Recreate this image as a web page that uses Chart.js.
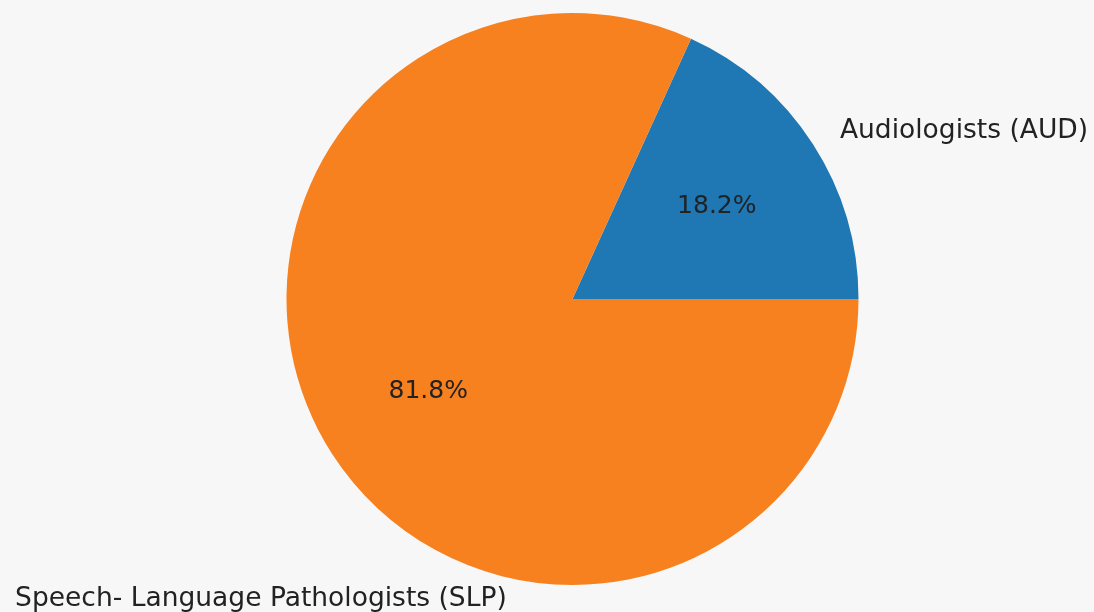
<!DOCTYPE html>
<html>
<head>
<meta charset="utf-8">
<script src="https://cdn.jsdelivr.net/npm/chart.js@4.4.0/dist/chart.umd.min.js"></script>
<style>
  html, body { margin: 0; padding: 0; background: #f7f7f7; }
  #caja { width: 1094px; height: 612px; position: relative; }
</style>
</head>
<body>
<div id="caja"><canvas id="mi-grafico"></canvas></div>
<script>
const etiquetas = ['Audiologists (AUD)', 'Speech- Language Pathologists (SLP)']
const valores = [18.2, 81.8]
const colores = ['#1f77b4', '#f7801f']

// posicion de las etiquetas externas (linea base), en fracciones del radio
const posEtiquetas = [
  { dx: 0.935, dy: -0.563 },
  { dx: -1.949, dy: 1.073 }
]

// rotacion: matplotlib empieza a las 3 y va antihorario
const total = valores.reduce((a, b) => a + b, 0)
const rotacion = 90 - valores[0] / total * 360

const textosPie = {
  id: 'textosPie',
  afterDatasetsDraw(chart) {
    const ctx = chart.ctx
    const arcos = chart.getDatasetMeta(0).data
    ctx.save()
    ctx.fillStyle = '#222'
    arcos.forEach((arco, i) => {
      const r = arco.outerRadius
      const medio = (arco.startAngle + arco.endAngle) / 2
      ctx.font = '25px "DejaVu Sans"'
      ctx.textAlign = 'center'
      ctx.textBaseline = 'middle'
      const pct = (valores[i] / total * 100).toFixed(1) + '%'
      ctx.fillText(pct, arco.x + Math.cos(medio) * r * 0.6, arco.y + Math.sin(medio) * r * 0.6)
      const p = posEtiquetas[i]
      ctx.font = '26.5px "DejaVu Sans"'
      ctx.textAlign = 'left'
      ctx.textBaseline = 'alphabetic'
      ctx.fillText(etiquetas[i], arco.x + p.dx * r, arco.y + p.dy * r)
    })
    ctx.restore()
  }
}

new Chart(document.getElementById('mi-grafico'), {
  type: 'pie',
  data: {
    labels: etiquetas,
    datasets: [{
      data: valores,
      backgroundColor: colores,
      borderWidth: 0
    }]
  },
  options: {
    responsive: true,
    maintainAspectRatio: false,
    animation: false,
    rotation: rotacion,
    layout: { padding: { top: 13, bottom: 27, left: 51, right: 0 } },
    plugins: {
      legend: { display: false },
      tooltip: { enabled: false }
    }
  },
  plugins: [textosPie]
})
</script>
</body>
</html>
